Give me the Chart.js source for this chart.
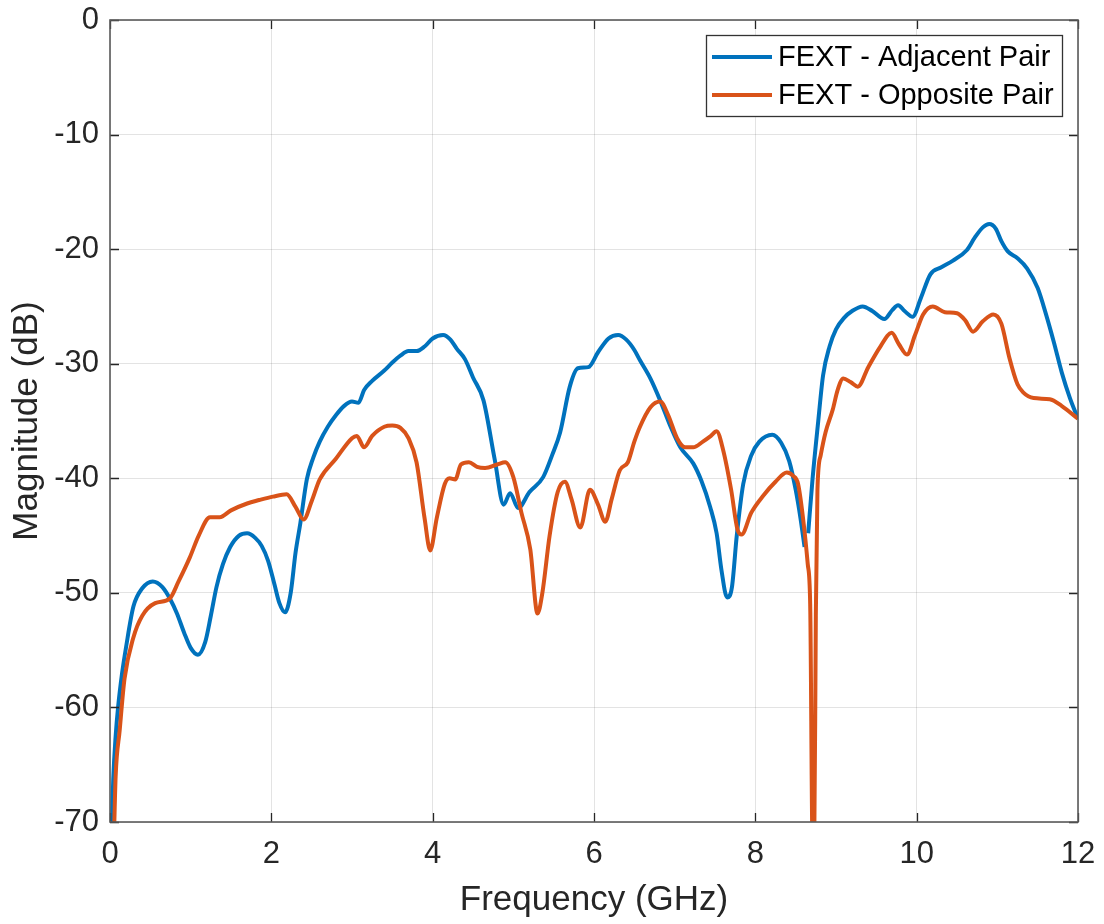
<!DOCTYPE html>
<html lang="en">
<head>
    <meta charset="UTF-8">
    <title>FEXT Magnitude</title>
    <style>
        body {
            margin: 0;
            background: #ffffff;
        }
        #wrap {
            width: 1104px;
            height: 924px;
        }
    </style>
</head>
<body>
    <div id="wrap">
        <canvas id="fextChart" width="1104" height="924"></canvas>
    </div>
    <script src="https://cdn.jsdelivr.net/npm/chart.js"></script>
    <script>
        // values
        var adjFreq = [0.02, 0.04, 0.07, 0.1, 0.15, 0.2, 0.29, 0.4, 0.53, 0.65, 0.75, 0.83, 0.92, 1.0, 1.09, 1.18, 1.25, 1.32, 1.4, 1.49,
            1.6, 1.7, 1.8, 1.88, 1.96, 2.04, 2.1, 2.17, 2.24, 2.3, 2.36, 2.44, 2.52, 2.6, 2.7, 2.8, 2.9, 3.0, 3.08, 3.15, 3.25,
            3.4, 3.5, 3.6, 3.7, 3.8, 3.9, 4.0, 4.13, 4.22, 4.3, 4.4, 4.5, 4.63, 4.77, 4.88, 4.96, 5.06, 5.2, 5.37, 5.48,
            5.58, 5.7, 5.8, 5.93, 6.05, 6.18, 6.3, 6.4, 6.5, 6.57, 6.7, 6.82, 6.95, 7.07, 7.23, 7.33, 7.44, 7.52, 7.58, 7.65,
            7.71, 7.77, 7.85, 7.95, 8.05, 8.21, 8.32, 8.42, 8.5, 8.56, 8.61, 8.63, 8.655, 8.71, 8.78, 8.84, 8.92, 9.0, 9.1, 9.2,
            9.33, 9.45, 9.6, 9.7, 9.77, 9.85, 9.95, 10.05, 10.17, 10.3, 10.45, 10.62, 10.72, 10.82, 10.9, 10.98, 11.05, 11.13, 11.25, 11.37,
            11.5, 11.6, 11.7, 11.8, 11.9, 12.0];
        var adjMag = [-71, -66.3, -62.5, -60, -57, -54.7, -51.2, -49.6, -49.0, -49.5, -50.6, -51.8, -53.5, -54.8, -55.4, -54.3, -52, -49.5, -47.5, -46,
            -45, -44.8, -45.2, -45.9, -47.2, -49.3, -50.9, -51.7, -50, -46.5, -43.9, -40.1, -38.2, -36.8, -35.5, -34.5, -33.7, -33.3, -33.4, -32.3, -31.5,
            -30.6, -29.9, -29.3, -28.9, -28.9, -28.5, -27.8, -27.5, -27.9, -28.7, -29.6, -31.2, -33.2, -38.4, -42.3, -41.3, -42.6, -41.2, -39.9, -38,
            -36, -32, -30.4, -30.3, -29, -27.8, -27.5, -27.9, -28.8, -29.7, -31.3, -33.2, -35.5, -37.3, -38.7, -40.2, -42.5, -44.8, -48, -50.4,
            -49.5, -45, -40.5, -38, -36.8, -36.2, -36.9, -38.5, -41, -43.5, -46, null, -44.8, -40, -35, -31, -28.5, -27, -26, -25.4,
            -25.0, -25.4, -26.1, -25.3, -24.9, -25.4, -25.9, -24.3, -22.2, -21.6, -21, -20.1, -19, -18.1, -17.8, -18.2, -19.3, -20.2, -20.8, -21.7,
            -23.4, -25.6, -28.1, -30.8, -33.0, -34.8];

        var oppFreq = [0.05, 0.07, 0.12, 0.18, 0.29, 0.4, 0.56, 0.74, 0.85, 0.99, 1.1, 1.24, 1.36, 1.5, 1.7, 1.85, 2.02, 2.19, 2.3, 2.4,
            2.5, 2.6, 2.8, 3.0, 3.06, 3.15, 3.25, 3.4, 3.5, 3.6, 3.7, 3.8, 3.9, 3.97, 4.05, 4.15, 4.21, 4.28, 4.35, 4.45,
            4.55, 4.65, 4.8, 4.9, 5.0, 5.1, 5.21, 5.3, 5.36, 5.45, 5.55, 5.64, 5.72, 5.83, 5.95, 6.05, 6.14, 6.22, 6.32, 6.42,
            6.5, 6.57, 6.7, 6.82, 6.92, 7.03, 7.13, 7.23, 7.35, 7.45, 7.52, 7.6, 7.7, 7.78, 7.83, 7.95, 8.1, 8.25, 8.39, 8.47,
            8.53, 8.6, 8.65, 8.68, 8.71, 8.73, 8.75, 8.77, 8.81, 8.87, 8.96, 9.02, 9.09, 9.18, 9.27, 9.4, 9.55, 9.69, 9.78, 9.88,
            9.98, 10.08, 10.2, 10.35, 10.5, 10.6, 10.7, 10.82, 10.95, 11.05, 11.15, 11.25, 11.32, 11.45, 11.65, 11.8, 12.0];
        var oppMag = [-71, -66, -62, -57.5, -53.9, -52, -50.9, -50.5, -49, -46.9, -45, -43.4, -43.4, -42.8, -42.2, -41.9, -41.6, -41.4, -42.5, -43.6,
            -42, -40.1, -38.3, -36.5, -36.3, -37.3, -36.3, -35.5, -35.4, -35.6, -36.5, -38.6, -43.5, -46.3, -43.5, -40.5, -40, -40.1, -38.8, -38.6,
            -39.0, -39.1, -38.8, -38.6, -39.9, -43, -46.2, -51.8, -50, -45, -41.2, -40.3, -41.8, -44.3, -41.0, -42.3, -43.8, -41.8, -39.3, -38.6,
            -36.8, -35.5, -33.8, -33.3, -34.5, -36.5, -37.3, -37.3, -36.8, -36.3, -35.9, -37.5, -41, -44.5, -44.9, -43, -41.5, -40.3, -39.5, -39.8,
            -40.5, -44, -47.5, -51, -72, -72, -52, -41, -38, -36, -34, -32.3, -31.3, -31.6, -32, -30.3, -28.5, -27.3, -28.3, -29.2,
            -27.5, -25.7, -25.0, -25.5, -25.6, -26.2, -27.2, -26.3, -25.7, -26.5, -29.5, -31.8, -32.5, -33.0, -33.1, -33.7, -34.8];

        var seriesNames = ['FEXT - Adjacent Pair', 'FEXT - Opposite Pair'];
        var seriesColors = ['#0072BD', '#D95319'];
        var xTicks = [0, 2, 4, 6, 8, 10, 12];
        var yTicks = [-70, -60, -50, -40, -30, -20, -10, 0];

        function toPoints(xs, ys) {
            return xs.map(function (x, i) { return { x: x, y: ys[i] }; });
        }

        var axisColor = '#262626';
        var fontFamily = '"Liberation Sans", Arial, Helvetica, sans-serif';

        // box round the axes, with MATLAB style ticks pointing inwards
        var boxPlugin = {
            id: 'boxPlugin',
            afterDatasetsDraw: function (chart) {
                var ctx = chart.ctx;
                var a = chart.chartArea;
                var xs = chart.scales.x;
                var ys = chart.scales.y;
                var len = 9;
                ctx.save();
                ctx.strokeStyle = axisColor;
                ctx.lineWidth = 1.3;
                ctx.beginPath();
                xTicks.forEach(function (t) {
                    var px = Math.round(xs.getPixelForValue(t)) + 0.5;
                    ctx.moveTo(px, a.bottom);
                    ctx.lineTo(px, a.bottom - len);
                    ctx.moveTo(px, a.top);
                    ctx.lineTo(px, a.top + len);
                });
                yTicks.forEach(function (t) {
                    var py = Math.round(ys.getPixelForValue(t)) + 0.5;
                    ctx.moveTo(a.left, py);
                    ctx.lineTo(a.left + len, py);
                    ctx.moveTo(a.right, py);
                    ctx.lineTo(a.right - len, py);
                });
                ctx.stroke();
                ctx.strokeStyle = '#5a5a5a';
                ctx.lineWidth = 1.6;
                ctx.strokeRect(a.left, a.top, a.right - a.left, a.bottom - a.top);
                ctx.restore();
            },
            afterDraw: function (chart) {
                // legend box in the top right corner
                var ctx = chart.ctx;
                var bx = 706, by = 35, bw = 356, bh = 81;
                ctx.save();
                ctx.fillStyle = '#ffffff';
                ctx.fillRect(bx, by, bw, bh);
                ctx.strokeStyle = '#333333';
                ctx.lineWidth = 1.3;
                ctx.strokeRect(bx + 0.5, by + 0.5, bw, bh);
                ctx.font = '29px ' + fontFamily;
                ctx.textBaseline = 'middle';
                ctx.textAlign = 'left';
                var rows = [57, 95];
                seriesNames.forEach(function (name, i) {
                    ctx.strokeStyle = seriesColors[i];
                    ctx.lineWidth = 4;
                    ctx.beginPath();
                    ctx.moveTo(712, rows[i]);
                    ctx.lineTo(772, rows[i]);
                    ctx.stroke();
                    ctx.fillStyle = '#000000';
                    ctx.fillText(name, 778, rows[i] + 1);
                });
                ctx.restore();
            }
        };

        var ctxFext = document.getElementById('fextChart').getContext('2d');
        var fextChart = new Chart(ctxFext, {
            type: 'line',
            data: {
                datasets: [{
                    label: seriesNames[0],
                    data: toPoints(adjFreq, adjMag),
                    borderColor: seriesColors[0],
                    borderWidth: 4,
                    pointRadius: 0,
                    cubicInterpolationMode: 'monotone',
                    spanGaps: false,
                    order: 1
                }, {
                    label: seriesNames[1],
                    data: toPoints(oppFreq, oppMag),
                    borderColor: seriesColors[1],
                    borderWidth: 4,
                    pointRadius: 0,
                    cubicInterpolationMode: 'monotone',
                    order: 0
                }]
            },
            options: {
                responsive: false,
                animation: false,
                layout: {
                    padding: { top: 20, right: 26, left: 0, bottom: 0 }
                },
                plugins: {
                    legend: { display: false },
                    tooltip: { enabled: false }
                },
                scales: {
                    x: {
                        type: 'linear',
                        min: 0,
                        max: 12,
                        afterBuildTicks: function (scale) {
                            scale.ticks = xTicks.map(function (v) { return { value: v }; });
                        },
                        afterFit: function (scale) {
                            scale.height = 102;
                            scale.paddingLeft = 0;
                            scale.paddingRight = 0;
                        },
                        grid: { color: 'rgba(38,38,38,0.13)', lineWidth: 1, drawTicks: false },
                        border: { display: false },
                        ticks: {
                            color: axisColor,
                            padding: 14,
                            maxRotation: 0,
                            font: { family: fontFamily, size: 31 }
                        },
                        title: {
                            display: true,
                            text: 'Frequency (GHz)',
                            color: axisColor,
                            padding: { top: 0, bottom: 3 },
                            font: { family: fontFamily, size: 35, lineHeight: 1.2 }
                        }
                    },
                    y: {
                        type: 'linear',
                        min: -70,
                        max: 0,
                        afterBuildTicks: function (scale) {
                            scale.ticks = yTicks.map(function (v) { return { value: v }; });
                        },
                        afterFit: function (scale) {
                            scale.width = 110;
                            scale.paddingTop = 0;
                            scale.paddingBottom = 0;
                        },
                        grid: { color: 'rgba(38,38,38,0.13)', lineWidth: 1, drawTicks: false },
                        border: { display: false },
                        ticks: {
                            color: axisColor,
                            padding: 11,
                            font: { family: fontFamily, size: 31 }
                        },
                        title: {
                            display: true,
                            text: 'Magnitude (dB)',
                            color: axisColor,
                            padding: { top: 6, bottom: 0 },
                            font: { family: fontFamily, size: 35, lineHeight: 1.2 }
                        }
                    }
                }
            },
            plugins: [boxPlugin]
        });
    </script>
</body>
</html>
